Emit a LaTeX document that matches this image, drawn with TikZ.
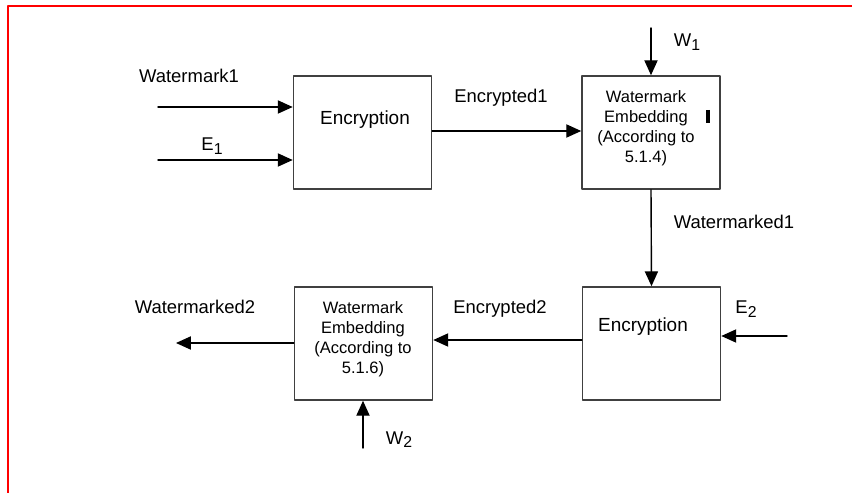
\documentclass[tikz,border=0pt]{standalone}
\usepackage{fontspec}
\setmainfont{Liberation Sans}
\usetikzlibrary{arrows.meta}
\newcommand{\lowsub}[1]{\raisebox{-0.4ex}{\fontsize{9}{9}\selectfont #1}}
\tikzset{
  blockbox/.style={draw=black!75, line width=0.9pt, minimum width=2.76cm,
    minimum height=2.26cm, inner sep=0pt},
  flow/.style={-{Triangle[length=8.5pt,width=7.5pt]}, line width=0.8pt},
  lbl/.style={font=\fontsize{10.5}{12}\selectfont, anchor=base, inner sep=0pt},
  boxtext/.style={font=\fontsize{9.4}{11.4}\selectfont, align=center, inner sep=0pt},
}
\begin{document}
\begin{tikzpicture}[x=0.02cm,y=-0.02cm,line cap=round,line join=round]
  \useasboundingbox (0,0) rectangle (852,493);
  % frame
  \draw[red, line width=1.7pt, line cap=butt] (8,493) -- (8,6) -- (852,6);
  % blocks
  \node[blockbox] (enc1) at (362.5,132.5) {};
  \node[blockbox] (emb1) at (651,132.5) {};
  \node[blockbox] (enc2) at (651.5,343.5) {};
  \node[blockbox] (emb2) at (363.5,343.5) {};
  \node[lbl, font=\fontsize{10.8}{12}\selectfont] at (365,125) {Encryption};
  \node[lbl, font=\fontsize{10.8}{12}\selectfont] at (643,332) {Encryption};
  \node[boxtext] at (646,128) {Watermark\\Embedding\\(According to\\5.1.4)};
  \node[boxtext] at (363,339) {Watermark\\Embedding\\(According to\\5.1.6)};
  \draw[line width=1.8pt, line cap=butt] (708,110) -- (708,123);
  % free ends
  \coordinate (wm1in) at (158,107);
  \coordinate (e1in) at (158,160);
  \coordinate (w1in) at (651,28);
  \coordinate (e2in) at (787,336);
  \coordinate (wm2out) at (176,343);
  \coordinate (w2in) at (363,448);
  % connectors
  \draw[flow] (wm1in) -- (wm1in -| enc1.west);
  \draw[flow] (e1in) -- (e1in -| enc1.west);
  \draw[flow] (enc1.east |- 0,131) -- (emb1.west |- 0,131);
  \draw[flow] (w1in) -- (emb1.north);
  \draw[flow] (emb1.south) -- (enc2.north);
  \draw[flow] (e2in) -- (e2in -| enc2.east);
  \draw[flow] (enc2.west |- 0,340) -- (emb2.east |- 0,340);
  \draw[flow] (emb2.west |- wm2out) -- (wm2out);
  \draw[flow] (w2in) -- (w2in |- emb2.south);
  % labels
  \node[lbl] at (189,83) {Watermark1};
  \node[lbl] at (212,151) {E\lowsub{1}};
  \node[lbl] at (501,103) {Encrypted1};
  \node[lbl] at (687,47) {W\lowsub{1}};
  \node[lbl] at (734,229) {Watermarked1};
  \node[lbl] at (195,314) {Watermarked2};
  \node[lbl] at (500,314) {Encrypted2};
  \node[lbl] at (746,314) {E\lowsub{2}};
  \node[lbl] at (399,444) {W\lowsub{2}};
\end{tikzpicture}
\end{document}
